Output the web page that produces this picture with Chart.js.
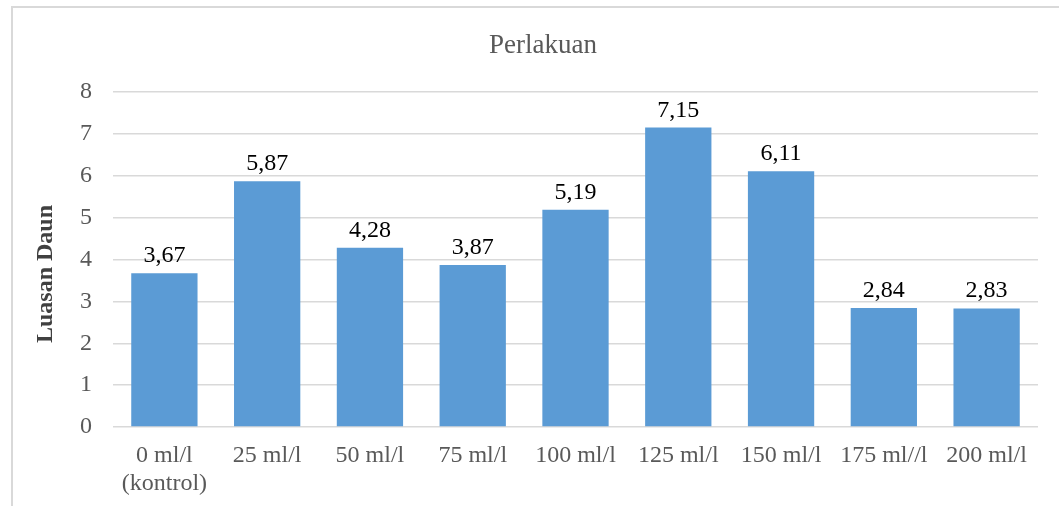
<!DOCTYPE html>
<html>
<head>
<meta charset="utf-8">
<script src="https://cdn.jsdelivr.net/npm/chart.js@4/dist/chart.umd.min.js"></script>
<style>
  html, body { margin: 0; padding: 0; background: #fff; }
  #wrap { position: relative; width: 1059px; height: 506px; overflow: hidden; }
  #frame { position: absolute; left: 11px; top: 6px; width: 1100px; height: 560px;
           border-left: 2px solid #d9d9d9; border-top: 2px solid #d9d9d9; box-sizing: border-box; }
  canvas { position: absolute; left: 0; top: 0; }
</style>
</head>
<body>
<div id="wrap">
  <div id="frame"></div>
  <canvas id="c" width="1059" height="506"></canvas>
</div>
<script>
// Treatments (dose) and measured leaf area
const categories = [
  ['0 ml/l', '(kontrol)'], '25 ml/l', '50 ml/l', '75 ml/l', '100 ml/l',
  '125 ml/l', '150 ml/l', '175 ml//l', '200 ml/l'
];
const luasanDaun = [3.67, 5.87, 4.28, 3.87, 5.19, 7.15, 6.11, 2.84, 2.83];
const yTicks = [0, 1, 2, 3, 4, 5, 6, 7, 8];

const chartTitle = 'Perlakuan';
const yTitle = 'Luasan Daun';
const serif = '"Liberation Serif", "Times New Roman", serif';

// Value labels above each bar, decimal comma
const valueLabels = {
  id: 'valueLabels',
  afterDatasetsDraw(chart) {
    const ctx = chart.ctx;
    const meta = chart.getDatasetMeta(0);
    ctx.save();
    ctx.font = '24px ' + serif;
    ctx.fillStyle = '#000000';
    ctx.textAlign = 'center';
    ctx.textBaseline = 'alphabetic';
    meta.data.forEach((bar, i) => {
      const txt = luasanDaun[i].toFixed(2).replace('.', ',');
      ctx.fillText(txt, bar.x, bar.y - 11);
    });
    ctx.restore();
  }
};

// Chart heading and vertical axis caption
const captions = {
  id: 'captions',
  afterDraw(chart) {
    const ctx = chart.ctx;
    ctx.save();
    ctx.font = '27px ' + serif;
    ctx.fillStyle = '#595959';
    ctx.textAlign = 'center';
    ctx.textBaseline = 'alphabetic';
    ctx.fillText(chartTitle, 543, 53);

    ctx.translate(52, 274);
    ctx.rotate(-Math.PI / 2);
    ctx.font = 'bold 24px ' + serif;
    ctx.fillStyle = '#404040';
    ctx.fillText(yTitle, 0, 0);
    ctx.restore();
  }
};

new Chart(document.getElementById('c'), {
  type: 'bar',
  data: {
    labels: categories,
    datasets: [{
      data: luasanDaun,
      backgroundColor: '#5B9BD5',
      borderWidth: 0,
      categoryPercentage: 1.0,
      barPercentage: 0.645
    }]
  },
  options: {
    responsive: false,
    animation: false,
    devicePixelRatio: 1,
    layout: { padding: { top: 92, right: 21, bottom: 0, left: 0 } },
    plugins: {
      legend: { display: false },
      title: { display: false },
      tooltip: { enabled: false }
    },
    scales: {
      x: {
        grid: { display: false, drawTicks: false },
        border: { display: false },
        ticks: {
          font: { family: serif, size: 24 },
          color: '#595959',
          padding: 14,
          maxRotation: 0,
          autoSkip: false
        },
        afterFit(scale) { scale.height = 79; }
      },
      y: {
        min: 0,
        max: 8,
        afterBuildTicks(scale) { scale.ticks = yTicks.map(v => ({ value: v })); },
        grid: { color: '#d9d9d9', lineWidth: 1.5, drawTicks: false },
        border: { display: false },
        ticks: {
          font: { family: serif, size: 24 },
          color: '#595959',
          padding: 21
        },
        afterFit(scale) { scale.width = 113; }
      }
    }
  },
  plugins: [valueLabels, captions]
});
</script>
</body>
</html>
